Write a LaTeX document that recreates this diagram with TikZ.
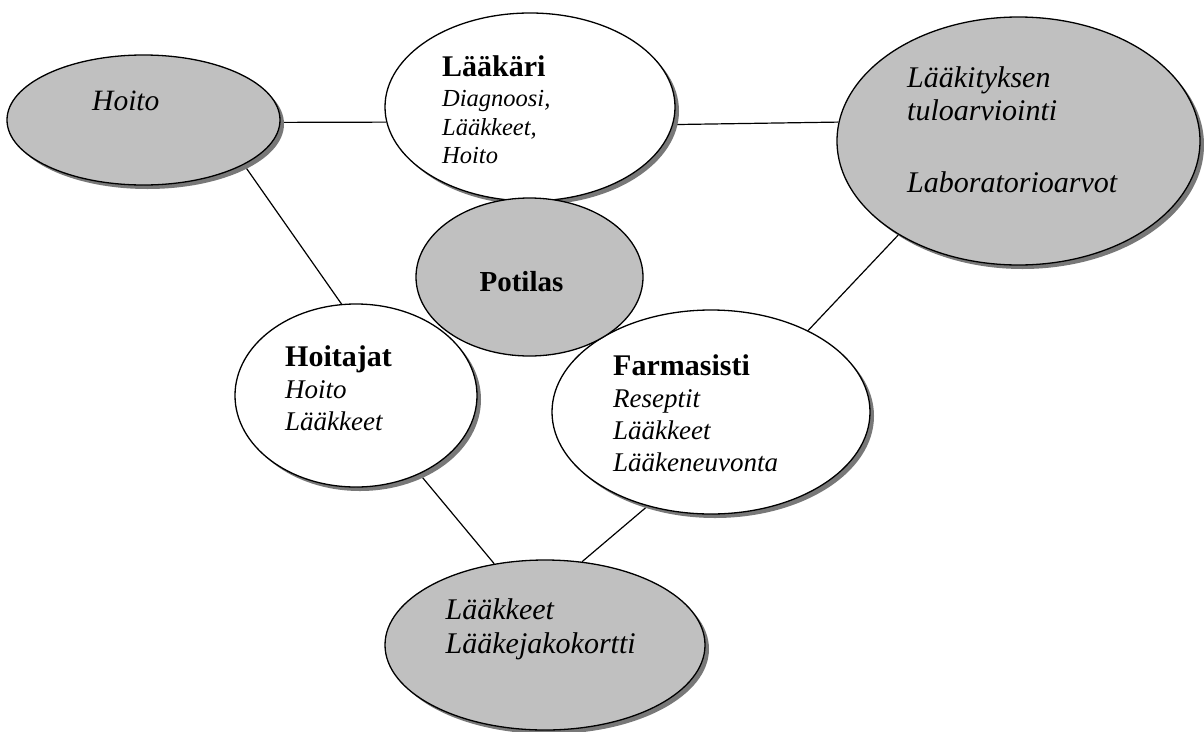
\documentclass[tikz,border=0pt]{standalone}
\usepackage{fontspec}
\setmainfont{Liberation Serif}
\usetikzlibrary{shapes.geometric,shadows}
\pgfdeclarelayer{paper}
\pgfdeclarelayer{lines}
\pgfsetlayers{paper,lines,main}
\definecolor{fillgrey}{RGB}{192,192,192}
\definecolor{shadowgrey}{RGB}{120,120,120}
\newcommand{\fsz}[1]{\fontsize{#1}{#1}\selectfont}
\tikzset{
  ellbase/.style={ellipse, draw=black, line width=1.3pt, inner sep=0pt},
  greyell/.style={ellbase, fill=fillgrey},
  whiteell/.style={ellbase, fill=white},
  withshadow/.style={drop shadow={shadow xshift=4pt, shadow yshift=-4pt, fill=shadowgrey, opacity=1}},
  txt/.style={anchor=base west, inner sep=0pt},
  boldtxt/.style={txt, font=\fsz{30}\bfseries},
  conn/.style={draw=black, line width=1.2pt},
}
\begin{document}
\begin{tikzpicture}[x=1pt,y=-1pt]
\begin{pgfonlayer}{paper}
\fill[white] (0,0) rectangle (1204,731);
\end{pgfonlayer}
\useasboundingbox (0,0) rectangle (1204,731);

% ellipses
\node[greyell, withshadow, minimum width=273pt, minimum height=130pt] (hoito) at (143.5,120) {};
\node[whiteell, withshadow, minimum width=290pt, minimum height=188pt] (laakari) at (530,107) {};
\node[greyell, withshadow, minimum width=363pt, minimum height=248pt] (arvio) at (1018.5,141) {};
\node[whiteell, withshadow, minimum width=242pt, minimum height=183pt] (hoitajat) at (356,395.5) {};
\node[whiteell, withshadow, minimum width=318pt, minimum height=204pt] (farm) at (711,412) {};
\node[greyell, withshadow, minimum width=320pt, minimum height=170pt] (kortti) at (545,645) {};
\node[greyell, minimum width=227pt, minimum height=158pt] (potilas) at (529.5,277) {};

% connectors
\begin{pgfonlayer}{lines}
\draw[conn] (hoito.-1) -- (laakari.186);
\draw[conn] (laakari.-7) -- (arvio.174.5);
\draw[conn] (hoito.-24) -- (hoitajat.99);
\draw[conn] (arvio.218) -- (farm.40);
\draw[conn] (hoitajat.-51) -- (kortti.122);
\draw[conn] (farm.236.5) -- (kortti.66);
\end{pgfonlayer}

% texts
\node[txt, font=\fsz{29.5}\itshape] (t-hoito) at (92,110) {Hoito};

\node[boldtxt] (t-laakari) at (442,76) {Lääkäri};
\node[txt, font=\fsz{24.5}\itshape] (t-laak1) at (442,106) {Diagnoosi,};
\node[txt, font=\fsz{24.5}\itshape] (t-laak2) at (442,135) {Lääkkeet,};
\node[txt, font=\fsz{24.5}\itshape] (t-laak3) at (442,163) {Hoito};

\node[txt, font=\fsz{30}\itshape] (t-arvio1) at (907,87) {Lääkityksen};
\node[txt, font=\fsz{30}\itshape] (t-arvio2) at (907,120) {tuloarviointi};
\node[txt, font=\fsz{30}\itshape] (t-arvio3) at (907,192) {Laboratorioarvot};

\node[anchor=base, inner sep=0pt, font=\fsz{29}\bfseries] (t-potilas) at (521.5,291) {Potilas};

\node[boldtxt] (t-hoitajat) at (285,366) {Hoitajat};
\node[txt, font=\fsz{27}\itshape] (t-hoit1) at (285,398) {Hoito};
\node[txt, font=\fsz{27}\itshape] (t-hoit2) at (285,430) {Lääkkeet};

\node[boldtxt] (t-farm) at (613,375) {Farmasisti};
\node[txt, font=\fsz{27}\itshape] (t-farm1) at (613,407) {Reseptit};
\node[txt, font=\fsz{27}\itshape] (t-farm2) at (613,439) {Lääkkeet};
\node[txt, font=\fsz{27}\itshape] (t-farm3) at (613,471) {Lääkeneuvonta};

\node[txt, font=\fsz{30}\itshape] (t-kortti1) at (445.5,619) {Lääkkeet};
\node[txt, font=\fsz{30}\itshape] (t-kortti2) at (445.5,653) {Lääkejakokortti};
\end{tikzpicture}
\end{document}
